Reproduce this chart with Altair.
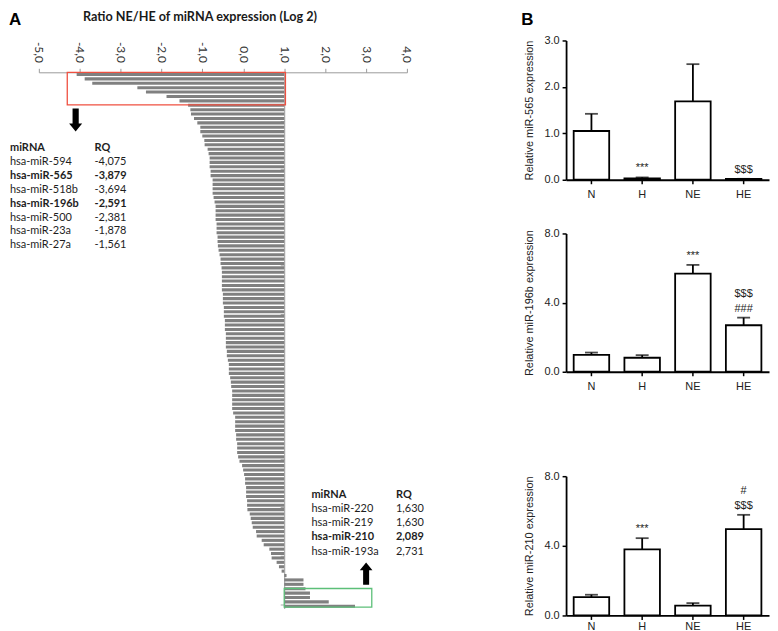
import altair as alt
import pandas as pd

# ---------------- Panel A data (log2 ratio NE/HE, sorted) ----------------
ratio_values = [
    -4.075, -3.879, -3.694, -2.591, -2.381, -1.878, -1.561,
    -1.350, -1.295, -1.279, -1.206, -1.125, -1.052, -1.052, -1.003, -0.954, -0.946,
    -0.873, -0.849, -0.824, -0.824, -0.824, -0.800, -0.800, -0.751, -0.751, -0.751,
    -0.751, -0.727, -0.703, -0.678, -0.678, -0.678, -0.678, -0.654, -0.654, -0.654,
    -0.630, -0.630, -0.622, -0.605, -0.581, -0.557,
    -0.557, -0.532, -0.524, -0.524, -0.524, -0.524, -0.524, -0.500, -0.500, -0.500,
    -0.476, -0.476, -0.476, -0.451, -0.451, -0.451, -0.427, -0.427, -0.427, -0.427,
    -0.403, -0.403, -0.378, -0.354, -0.354, -0.354, -0.322, -0.305, -0.297, -0.273,
    -0.273, -0.273, -0.273, -0.273, -0.249, -0.200, -0.200, -0.200, -0.200, -0.176,
    -0.176, -0.151, -0.151,
    -0.151, -0.127, -0.094, -0.030, -0.005, 0.019, 0.043, 0.043, 0.068, 0.068,
    0.068, 0.092, 0.092, 0.100, 0.157, 0.181, 0.206, 0.230, 0.311, 0.327,
    0.449, 0.498, 0.636, 0.676, 0.692, 0.814, 0.871, 0.936, 1.057, 1.471,
    1.471, 1.520, 1.630, 1.630, 2.089, 2.731,
]
down_names = ["hsa-miR-594", "hsa-miR-565", "hsa-miR-518b", "hsa-miR-196b",
              "hsa-miR-500", "hsa-miR-23a", "hsa-miR-27a"]
down_bold = [False, True, False, True, False, False, False]
up_names = ["hsa-miR-220", "hsa-miR-219", "hsa-miR-210", "hsa-miR-193a"]
up_bold = [False, False, True, False]
axis_a_ticks = [-5, -4, -3, -2, -1, 0, 1, 2, 3, 4]
rank_tick_step = 11
ratio_baseline = 1.0
title_a = "Ratio NE/HE of miRNA expression (Log 2)"

# ---------------- Panel B data ----------------
groups = ["N", "H", "NE", "HE"]
mir565_mean = [1.05, 0.03, 1.69, 0.02]
mir565_sem = [0.37, 0.02, 0.80, 0.00]
mir196b_mean = [0.98, 0.81, 5.68, 2.69]
mir196b_sem = [0.13, 0.15, 0.50, 0.44]
mir210_mean = [1.05, 3.79, 0.57, 4.96]
mir210_sem = [0.14, 0.65, 0.14, 0.82]
mir565_marks = [("H", "***", 0), ("HE", "$$$", 0)]
mir196b_marks = [("NE", "***", 0), ("HE", "###", 0), ("HE", "$$$", 1)]
mir210_marks = [("H", "***", 0), ("HE", "$$$", 0), ("HE", "#", 1)]

FONT_A = "Lato"
FONT_B = "Liberation Sans"
one = pd.DataFrame({"k": [0]})


def fmt_rq(v):
    return f"{v:.3f}".replace(".", ",")


def frame(x1, x2, y1, y2):
    # invisible box that fixes the layout extent of a panel
    return alt.Chart(one).mark_rect(opacity=0).encode(
        x=alt.value(x1), x2=alt.value(x2), y=alt.value(y1), y2=alt.value(y2))


# ---------------- Panel A ----------------
TOP = 32          # room above the ranked bars for the top axis
A_W, A_H = 370, 571
X_MIN, X_MAX = -5, 4
n = len(ratio_values)
dfA = pd.DataFrame({"rank": list(range(n)), "ratio": ratio_values})
xA = alt.Scale(domain=[X_MIN, X_MAX], nice=False, zero=False)
yA = alt.Scale(domain=[0, n], range=[TOP, A_H], nice=False, zero=False)

x_axis_a = alt.Axis(
    orient="top", offset=-TOP, values=axis_a_ticks, title=None, grid=False,
    labelExpr="replace(replace(format(datum.value, '.1f'), '.', ','), '\u2212', '-')",
    labelAngle=90, labelAlign="right", labelBaseline="middle",
    labelFont=FONT_A, labelFontSize=12, labelColor="#333333", labelPadding=6,
    tickSize=4, tickColor="#9a9a9a", domainColor="#9a9a9a", domainWidth=1,
)
# category axis drawn at the baseline value (x = 1.0)
base_px = A_W * (ratio_baseline - X_MIN) / (X_MAX - X_MIN)
y_axis_a = alt.Axis(
    orient="left", offset=-base_px, values=list(range(0, n + 1, rank_tick_step)),
    labels=False, title=None, grid=False, tickSize=4, tickColor="#a8a8a8",
    domainColor="#9a9a9a", domainWidth=1,
)

bars_a = alt.Chart(dfA).transform_calculate(
    y0="datum.rank + 0.15", y1="datum.rank + 0.85"
).mark_rect(color="#808080").encode(
    x=alt.X("ratio:Q", scale=xA, axis=x_axis_a),
    x2=alt.datum(ratio_baseline),
    y=alt.Y("y0:Q", scale=yA, axis=y_axis_a),
    y2="y1:Q",
)

nd, nu = len(down_names), len(up_names)
red_box = alt.Chart(pd.DataFrame({
    "x0": [min(ratio_values) - 0.23], "x1": [ratio_baseline + 0.03],
    "y0": [0], "y1": [nd + 0.4]})).mark_rect(
    fillOpacity=0, stroke="#ef5040", strokeWidth=1.3
).encode(x="x0:Q", x2="x1:Q", y="y0:Q", y2="y1:Q")

green_box = alt.Chart(pd.DataFrame({
    "x0": [ratio_baseline], "x1": [max(ratio_values) + 0.41],
    "y0": [n - nu - 0.55], "y1": [n - 0.3]})).mark_rect(
    fillOpacity=0, stroke="#5cbf78", strokeWidth=1.3
).encode(x="x0:Q", x2="x1:Q", y="y0:Q", y2="y1:Q")


def table_layers(names, bold, values, x_name, x_rq, y_top, step):
    rows = pd.DataFrame({
        "row": list(range(len(names) + 1)),
        "name": ["miRNA"] + names,
        "rq": ["RQ"] + [fmt_rq(v) for v in values],
        "bold": [True] + bold,
    })
    base = alt.Chart(rows).transform_calculate(yy=f"{y_top} + {step} * datum.row")
    layers = []
    for is_bold in (False, True):
        sub = base.transform_filter("datum.bold" if is_bold else "!datum.bold")
        for col, xpos in (("name", x_name), ("rq", x_rq)):
            layers.append(sub.mark_text(
                align="left", baseline="middle", font=FONT_A, fontSize=11,
                fontWeight="bold" if is_bold else "normal", color="#1e1e1e"
            ).encode(x=alt.value(xpos), y=alt.Y("yy:Q", scale=None, axis=None),
                     text=f"{col}:N"))
    return layers


tab_down = table_layers(down_names, down_bold, ratio_values[:nd], -29, 56, TOP + 76, 14)
tab_up = table_layers(up_names, up_bold, ratio_values[-nu:], 274, 359, TOP + 425, 14.2)

arrow_down = "M-0.27,-1L0.27,-1L0.27,0.3L0.57,0.3L0,1L-0.57,0.3L-0.27,0.3Z"
arrow_up = "M-0.27,1L0.27,1L0.27,-0.3L0.57,-0.3L0,-1L-0.57,-0.3L-0.27,-0.3Z"
arr1 = alt.Chart(one).mark_point(shape=arrow_down, size=529, filled=True, color="black",
                                 opacity=1, strokeWidth=0).encode(
    x=alt.value(37), y=alt.value(TOP + 48))
arr2 = alt.Chart(one).mark_point(shape=arrow_up, size=500, filled=True, color="black",
                                 opacity=1, strokeWidth=0).encode(
    x=alt.value(329), y=alt.value(TOP + 504))

title_txt = alt.Chart(one).mark_text(
    align="center", baseline="alphabetic", font=FONT_A, fontSize=12.7, fontWeight="bold",
    color="#1a1a1a").encode(x=alt.value(162), y=alt.value(TOP - 52), text=alt.value(title_a))
letter_a = alt.Chart(one).mark_text(
    align="left", baseline="top", font=FONT_B, fontSize=17, fontWeight="bold",
    color="black").encode(x=alt.value(-30), y=alt.value(TOP - 61), text=alt.value("A"))

panel_a = alt.layer(
    frame(-30, 392, TOP - 62, A_H + 3),
    bars_a, red_box, green_box, *tab_down, *tab_up, arr1, arr2, title_txt, letter_a
).properties(width=A_W, height=A_H)


# ---------------- Panel B ----------------
B_W = 204
SW = 1.8


def panel_b(mean, sem, marks, ymax, major, minor, ytitle, height, box,
            label_pad=5, letter=None):
    df = pd.DataFrame({"group": groups, "mean": mean, "sem": sem})
    xs = alt.Scale(domain=groups, paddingInner=0.3, paddingOuter=0.15)
    ys = alt.Scale(domain=[0, ymax], nice=False, zero=True)
    nt = int(round(ymax / minor))
    tick_vals = [round(i * minor, 3) for i in range(nt + 1)]
    test = f"abs(datum.value / {major} - round(datum.value / {major})) < 0.000001"
    yaxis = alt.Axis(
        values=tick_vals, labelExpr=f"{test} ? format(datum.value, '.1f') : ''",
        tickSize={"condition": {"test": test, "value": 4}, "value": 2},
        tickColor="black", tickWidth=1.5, domainColor="black", domainWidth=SW,
        labelFont=FONT_B, labelFontSize=11, labelColor="#222222", labelPadding=3,
        title=ytitle, titleFont=FONT_B, titleFontSize=11, titleFontWeight="normal",
        titleColor="#222222", titlePadding=9, grid=False,
    )
    xaxis = alt.Axis(
        labelAngle=0, title=None, domainColor="black", domainWidth=SW,
        tickColor="black", tickWidth=1.5, tickSize=4, labelPadding=label_pad,
        labelFont=FONT_B, labelFontSize=11, labelColor="#222222", grid=False,
    )
    base = alt.Chart(df).encode(x=alt.X("group:N", scale=xs, sort=groups, axis=xaxis))
    bars = base.mark_bar(fill="white", stroke="black", strokeWidth=SW).encode(
        y=alt.Y("mean:Q", scale=ys, axis=yaxis))
    withtop = base.transform_calculate(top="datum.mean + datum.sem")
    err = withtop.mark_rule(color="black", strokeWidth=SW).encode(y="mean:Q", y2="top:Q")
    cap = withtop.mark_tick(orient="horizontal", color="black", thickness=SW,
                            size=13).encode(y="top:Q")
    ann = pd.DataFrame(marks, columns=["group", "label", "line"])
    abase = alt.Chart(ann).transform_lookup(
        lookup="group", from_=alt.LookupData(data=df, key="group", fields=["mean", "sem"])
    ).transform_calculate(top="datum.mean + datum.sem")
    layers = [frame(*box), bars, err, cap]
    for ln, dy in ((0, -9), (1, -24)):
        layers.append(abase.transform_filter(f"datum.line == {ln}").mark_text(
            font=FONT_B, fontSize=11, color="#222222", baseline="middle", dy=dy
        ).encode(x=alt.X("group:N", sort=groups), y="top:Q", text="label:N"))
    if letter:
        layers.append(alt.Chart(one).mark_text(
            align="left", baseline="top", font=FONT_B, fontSize=17, fontWeight="bold",
            color="black").encode(x=alt.value(-45), y=alt.value(-29), text=alt.value(letter)))
    return alt.layer(*layers).properties(width=B_W, height=height)


b1 = panel_b(mir565_mean, mir565_sem, mir565_marks, 3.0, 1.0, 0.5,
             "Relative miR-565 expression", 140, (-51, B_W, -30, 167), letter="B")
b2 = panel_b(mir196b_mean, mir196b_sem, mir196b_marks, 8.0, 2.0, 1.0,
             "Relative miR-196b expression", 139, (-51, B_W, -19, 212))
b3 = panel_b(mir210_mean, mir210_sem, mir210_marks, 8.0, 2.0, 1.0,
             "Relative miR-210 expression", 140, (-51, B_W, -24, 157), label_pad=1)

col_b = alt.vconcat(b1, b2, b3, spacing=6)

chart = alt.hconcat(panel_a, col_b, spacing=85).properties(
    padding=0
).configure_view(stroke="transparent")

chart.save("out.html", embed_options={"renderer": "svg", "actions": False})
